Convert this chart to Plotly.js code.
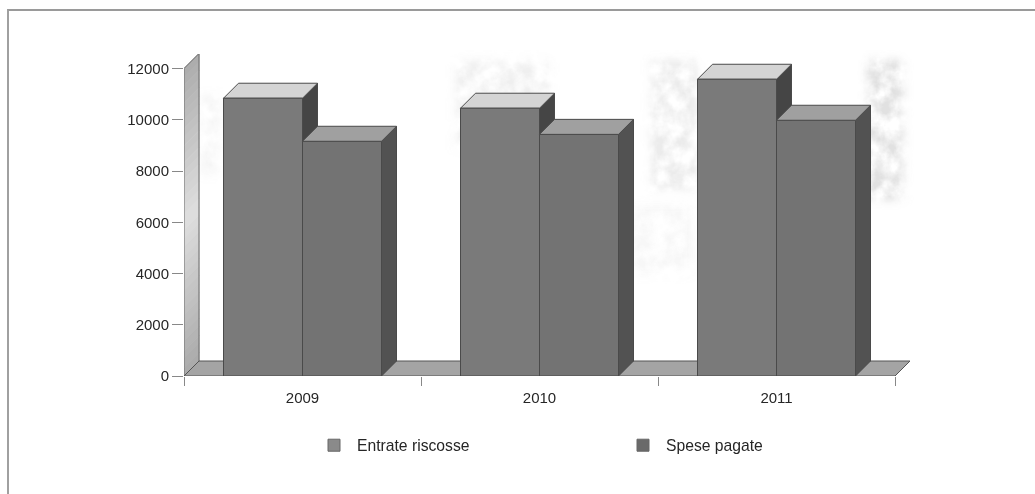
<!DOCTYPE html>
<html><head><meta charset="utf-8">
<script src="https://cdn.plot.ly/plotly-3.0.1.min.js"></script>
<style>
html,body{margin:0;padding:0;background:#fff;width:1035px;height:494px;overflow:hidden}
#scan{position:absolute;left:0;top:0}
#frame{position:absolute;left:7px;top:9px;width:1028px;height:485px;border-left:2px solid #a0a0a0;border-top:2px solid #9a9a9a;box-sizing:border-box}
#chart{position:absolute;left:0;top:0;width:1035px;height:494px}
</style></head><body>
<svg id="scan" width="1035" height="494">
  <defs><filter id="mottle" x="-10%" y="-10%" width="120%" height="120%">
    <feGaussianBlur in="SourceGraphic" stdDeviation="5" result="soft"/>
    <feTurbulence type="fractalNoise" baseFrequency="0.06" numOctaves="4" seed="4" result="noise"/>
    <feColorMatrix in="noise" type="matrix" values="0 0 0 0 0  0 0 0 0 0  0 0 0 0 0  2.2 0 0 0 -0.6" result="mask"/>
    <feComposite in="soft" in2="mask" operator="in"/>
  </filter></defs>
  <g filter="url(#mottle)" fill="#9a9a9a">
    <rect x="455" y="60" width="95" height="90" opacity=".16"/>
    <rect x="650" y="60" width="48" height="130" opacity=".2"/>
    <rect x="866" y="60" width="38" height="140" opacity=".3"/>
    <rect x="200" y="95" width="22" height="80" opacity=".1"/>
    <rect x="628" y="205" width="65" height="70" opacity=".08"/>
  </g>
</svg>
<div id="frame"></div><div id="chart"></div>
<script>
const years = ['2009', '2010', '2011'];
const entrate = [10840, 10450, 11580];
const spese = [9160, 9430, 9980];
const yTicks = [0, 2000, 4000, 6000, 8000, 10000, 12000];
const seriesNames = ['Entrate riscosse', 'Spese pagate'];

const plotL = 184, catPx = 237, plotT = 54, plotB = 376;
const depth = 15;
const pxPerUnitY = 307.5 / 12000;
const yTop = (plotB - plotT) / pxPerUnitY;
const dx = depth / catPx;
const dy = depth / pxPerUnitY;
const plotR = plotL + 3 * catPx + depth;
const halfGroup = 1 / 3;
const edge = '#4a4a4a';
const x0 = -0.5, x1 = 2.5;

function poly(xs, ys, fill, axis, line) {
  return {type:'scatter', mode:'lines', x:xs.concat([xs[0]]), y:ys.concat([ys[0]]), fill:'toself', fillcolor:fill,
    line:{color:line === undefined ? edge : line, width:1}, xaxis:axis, yaxis:'y',
    showlegend:false, hoverinfo:'skip', cliponaxis:false};
}
function side(x, v, fill, axis){ return poly([x, x+dx, x+dx, x],[v, v+dy, dy, 0], fill, axis); }
function topFace(a, b, v, fill, axis){ return poly([a, a+dx, b+dx, b],[v, v+dy, v+dy, v], fill, axis); }

const traces = [];
// wall: thin bands follow its shading from dark top through a light middle to a grey foot
const bands = 36;
for (let k = 0; k < bands; k++) {
  const t = (k + 0.5) / bands;
  const g = Math.round(t < 0.5 ? 172 + (222 - 172) * (t / 0.5) : 222 - (222 - 170) * ((t - 0.5) / 0.5));
  const c = 'rgb(' + g + ',' + g + ',' + g + ')';
  const hi = 12000 * (1 - k / bands), lo = 12000 * (1 - (k + 1) / bands);
  traces.push(poly([x0, x0+dx, x0+dx, x0],[hi, hi+dy, lo+dy, lo], c, 'x', c));
}
traces.push({type:'scatter',mode:'lines',x:[x0,x0,x0+dx,x0+dx,x0,x0+dx],y:[0,12000,12000+dy,dy,0,dy],
  line:{color:'#6a6a6a',width:1},xaxis:'x',yaxis:'y',showlegend:false,hoverinfo:'skip',cliponaxis:false});
// floor
traces.push(poly([x0, x0+dx, x1+dx, x1],[0, dy, dy, 0], '#a4a4a4', 'x', '#555555'));
// back layer: first series side and top faces
years.forEach((_, i) => {
  traces.push(side(i, entrate[i], '#454545', 'x'));
  traces.push(topFace(i-halfGroup, i, entrate[i], '#d4d4d4', 'x'));
});
// front faces
traces.push({type:'bar', x:years, y:entrate, name:seriesNames[0], xaxis:'x2', yaxis:'y',
  marker:{color:'#7a7a7a', line:{color:edge, width:1}}, showlegend:false, hoverinfo:'skip'});
traces.push({type:'bar', x:years, y:spese, name:seriesNames[1], xaxis:'x2', yaxis:'y',
  marker:{color:'#737373', line:{color:edge, width:1}}, showlegend:false, hoverinfo:'skip'});
// front layer: second series side and top faces
years.forEach((_, i) => {
  traces.push(side(i+halfGroup, spese[i], '#525252', 'x3'));
  traces.push(topFace(i, i+halfGroup, spese[i], '#a0a0a0', 'x3'));
});
// legend
[['#8a8a8a', seriesNames[0]], ['#6a6a6a', seriesNames[1]]].forEach(([c, n]) => {
  traces.push({type:'scatter', mode:'markers', x:[null], y:[null], name:n, xaxis:'x', yaxis:'y',
    marker:{symbol:'square', size:12, color:c, line:{color:'#666666', width:1}}, showlegend:true});
});

const font = {family:'"Liberation Sans", Arial, sans-serif', size:15, color:'#262626'};
const xr = [x0, x1 + dx];
const layout = {
  width:1035, height:494, paper_bgcolor:'rgba(0,0,0,0)', plot_bgcolor:'rgba(0,0,0,0)', font:font,
  margin:{l:plotL, r:1035-plotR, t:plotT, b:494-plotB, pad:0},
  barmode:'group', bargap:1/3, bargroupgap:0, showlegend:true,
  xaxis:{type:'linear', range:xr, visible:false, fixedrange:true},
  xaxis2:{type:'category', overlaying:'x', anchor:'y', side:'bottom', categoryorder:'array', categoryarray:years,
    range:xr, tickson:'boundaries', ticks:'outside', ticklen:9, tickcolor:'#888888', tickwidth:1, ticklabelstandoff:11,
    showline:false, showgrid:false, zeroline:false, tickfont:font, fixedrange:true},
  xaxis3:{type:'linear', overlaying:'x', anchor:'y', range:xr, visible:false, fixedrange:true},
  yaxis:{range:[0,yTop], tickmode:'array', tickvals:yTicks, ticktext:yTicks.map(String), ticks:'outside', ticklen:11,
    tickcolor:'#888888', tickwidth:1, showline:false, showgrid:false, zeroline:false, tickfont:font, fixedrange:true},
  legend:{orientation:'h', xref:'paper', yref:'paper', x:(311-plotL)/(plotR-plotL), xanchor:'left',
    y:(plotB-428.5)/(plotB-plotT), yanchor:'top', itemwidth:36, entrywidth:258, entrywidthmode:'pixels',
    font:{family:font.family, size:15.7, color:font.color},
    bgcolor:'rgba(0,0,0,0)', itemclick:false, itemdoubleclick:false}
};
Plotly.newPlot('chart', traces, layout, {displayModeBar:false, staticPlot:true});
</script>
</body></html>
